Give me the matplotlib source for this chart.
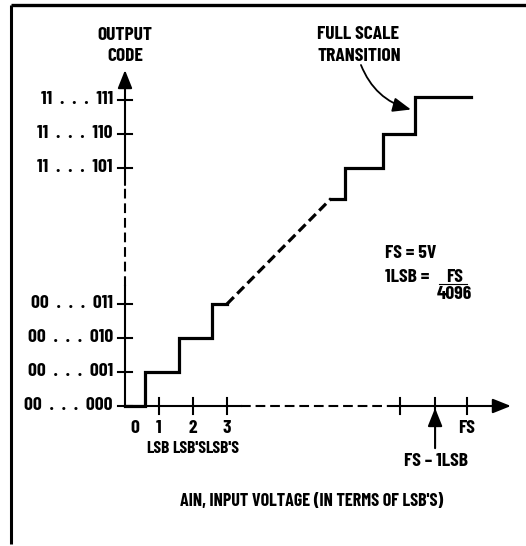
import matplotlib
matplotlib.use('Agg')
import matplotlib.pyplot as plt

plt.rcParams['font.family'] = ['Barlow Condensed', 'DejaVu Sans']
plt.rcParams['lines.scale_dashes'] = False

# ADC transfer curve, all values in LSB units (x = input, y = output code)
low_x = [0, 0.6, 0.6, 1.6, 1.6, 2.55, 2.55, 3.0]
low_y = [0, 0, 1, 1, 2, 2, 3, 3]
gap_x = [3.0, 6.06]
gap_y = [3.0, 6.1]
high_x = [6.06, 6.47, 6.47, 7.6, 7.6, 8.53, 8.53, 10.18]
high_y = [6.1, 6.1, 7, 7, 8, 8, 9.1, 9.1]

code_pos = [0, 1, 2, 3, 7, 8, 9]
code_labels = ['00  .  .  .  000', '00  .  .  .  001', '00  .  .  .  010', '00  .  .  .  011',
               '11  .  .  .  101', '11  .  .  .  110', '11  .  .  .  111']
lsb_pos = [1, 2, 3]
lsb_labels = ['1', '2', '3']
lsb_units = ['LSB', "LSB'S", "LSB'S"]
fs_ticks = [8.1, 9.12, 10.05]

# pixel mapping: 1 LSB = 34 px, origin at (125, 406)
PX, X0, Y0 = 34.0, 125.0, 406.0
W, H = 526, 546

fig = plt.figure(figsize=(W / 100, H / 100), dpi=100)
ax = fig.add_axes([0, 0, 1, 1])
ax.set_xlim(-X0 / PX, (W - X0) / PX)
ax.set_ylim((Y0 - H) / PX, Y0 / PX)
ax.axis('off')

k = 'black'
fnt = dict(fontsize=14, fontweight='bold', color=k)
dash = (0, (7, 3.5))
head = dict(arrowstyle='-|>,head_length=0.55,head_width=0.22', color=k,
            lw=1.5, shrinkA=0, shrinkB=0, mutation_scale=20)

# frame (top and left only)
ax.plot([-3.35, W / PX], [11.79, 11.79], color=k, lw=2.4, solid_capstyle='butt')
ax.plot([-3.35, -3.35], [11.79, -4.06], color=k, lw=2.2, solid_capstyle='butt')

# y axis
ax.plot([0, 0], [0, 3.53], color=k, lw=1.5)
ax.plot([0, 0], [3.53, 6.5], color=k, lw=1.5, linestyle=dash)
ax.annotate('', xy=(0, 9.88), xytext=(0, 6.5), arrowprops=head)
for p, lab in zip(code_pos, code_labels):
    ax.plot([-0.2, 0.2], [p, p], color=k, lw=1.5)
    ax.text(-0.36, p, lab, ha='right', va='center', **fnt)
ax.text(0, 10.91, 'OUTPUT', ha='center', va='center', **fnt)
ax.text(0, 10.27, 'CODE', ha='center', va='center', **fnt)

# x axis
ax.plot([0, 3.4], [0, 0], color=k, lw=1.5)
ax.plot([3.4, 7.94], [0, 0], color=k, lw=1.5, linestyle=dash)
ax.annotate('', xy=(11.35, 0), xytext=(7.94, 0), arrowprops=head)
for p in lsb_pos + fs_ticks:
    ax.plot([p, p], [-0.24, 0.24], color=k, lw=1.5)
ax.text(0.29, -0.66, '0', ha='center', va='center', **fnt)
for p, lab, unit, ux in zip(lsb_pos, lsb_labels, lsb_units, [0.97, 1.88, 2.86]):
    ax.text(p, -0.66, lab, ha='center', va='center', **fnt)
    ax.text(ux, -1.24, unit, ha='center', va='center', fontsize=12.5,
            fontweight='bold', color=k)
ax.text(fs_ticks[2], -0.66, 'FS', ha='center', va='center', **fnt)
ax.annotate('', xy=(fs_ticks[1], -0.06), xytext=(fs_ticks[1], -1.24), arrowprops=head)
ax.text(fs_ticks[1] + 0.03, -1.62, 'FS – 1LSB', ha='center', va='center', **fnt)
ax.text(5.5, -2.8, "AIN, INPUT VOLTAGE (IN TERMS OF LSB'S)", ha='center', va='center',
        fontsize=13, fontweight='bold', color=k)

# transfer curve
ax.plot(low_x, low_y, color=k, lw=2.3, solid_joinstyle='miter')
ax.plot(gap_x, gap_y, color=k, lw=2.3, linestyle=dash)
ax.plot(high_x, high_y, color=k, lw=2.3, solid_joinstyle='miter')

# full scale transition note
ax.text(6.85, 10.94, 'FULL SCALE', ha='center', va='center', **fnt)
ax.text(6.9, 10.27, 'TRANSITION', ha='center', va='center', **fnt)
ax.annotate('', xy=(8.41, 8.72), xytext=(6.94, 10.03),
            arrowprops=dict(arrowstyle='-|>,head_length=0.55,head_width=0.22', color=k,
                            lw=1.3, shrinkA=0, shrinkB=0, mutation_scale=20,
                            connectionstyle='arc3,rad=0.25'))

# FS / LSB definitions
ax.text(7.65, 4.5, 'FS = 5V', ha='left', va='center', **fnt)
ax.text(7.65, 3.79, '1LSB =', ha='left', va='center', **fnt)
ax.text(9.68, 3.79, 'FS', ha='center', va='center', **fnt)
ax.plot([9.23, 10.05], [3.6, 3.6], color=k, lw=0.8)
ax.text(9.7, 3.28, '4096', ha='center', va='center', **fnt)

fig.savefig('out.png', dpi=100)
